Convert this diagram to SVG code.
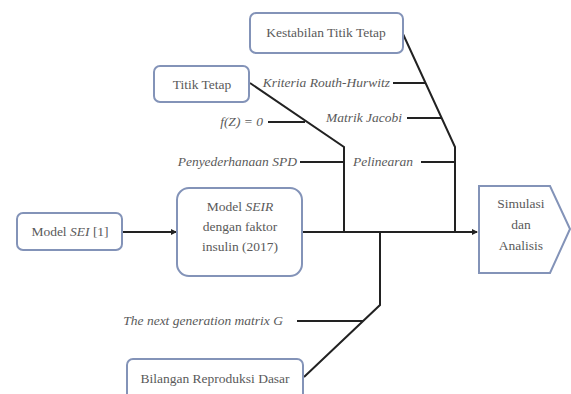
<svg xmlns="http://www.w3.org/2000/svg" width="571" height="394" viewBox="0 0 571 394">
<style>
.box{fill:#fff;stroke:#8393b8;stroke-width:2}
.t{font-family:"Liberation Serif","DejaVu Serif",serif;font-size:13.5px;fill:#5a5a5a;text-anchor:middle}
.l{font-family:"Liberation Serif","DejaVu Serif",serif;font-size:13.5px;fill:#5a5a5a;font-style:italic;text-anchor:end}
.c{fill:none;stroke:#222;stroke-width:2}
</style>
<defs>
<marker id="ah" markerWidth="6" markerHeight="6" refX="5" refY="3" orient="auto" markerUnits="userSpaceOnUse">
<path d="M0,0 L6,3 L0,6 z" fill="#222"/>
</marker>
</defs>
<rect width="571" height="394" fill="#fff"/>
<g id="connectors">
<line class="c" x1="122" y1="232" x2="176" y2="232" marker-end="url(#ah)"/>
<line class="c" x1="302" y1="232" x2="477" y2="232" marker-end="url(#ah)"/>
<polyline class="c" points="403,34 455,147 455,232"/>
<polyline class="c" points="250,83 344,147 344,232"/>
<polyline class="c" points="380,232 380,305 304,377"/>
<line class="c" x1="393" y1="83" x2="425" y2="83"/>
<line class="c" x1="407" y1="118" x2="441" y2="118"/>
<line class="c" x1="421" y1="162" x2="455" y2="162"/>
<line class="c" x1="268" y1="122" x2="305" y2="122"/>
<line class="c" x1="300" y1="162" x2="344" y2="162"/>
<line class="c" x1="297" y1="321" x2="363" y2="321"/>
</g>
<g id="labels">
<text class="l" x="390" y="87">Kriteria Routh-Hurwitz</text>
<text class="l" x="402" y="122">Matrik Jacobi</text>
<text class="l" x="413" y="166">Pelinearan</text>
<text class="l" x="263" y="126">f(Z) = 0</text>
<text class="l" x="297" y="166">Penyederhanaan SPD</text>
<text class="l" x="283" y="325">The next generation matrix G</text>
</g>
<g id="kestabilan">
<rect class="box" x="250" y="13" width="153" height="40" rx="6"/>
<text class="t" x="326" y="37">Kestabilan Titik Tetap</text>
</g>
<g id="titik-tetap">
<rect class="box" x="154" y="66" width="95" height="36" rx="6"/>
<text class="t" x="202" y="89">Titik Tetap</text>
</g>
<g id="model-sei">
<rect class="box" x="17" y="213" width="105" height="37" rx="6"/>
<text class="t" x="70" y="236">Model <tspan font-style="italic">SEI</tspan> [1]</text>
</g>
<g id="model-seir">
<rect class="box" x="177" y="188" width="125" height="88" rx="12"/>
<text class="t" x="240" y="211">Model <tspan font-style="italic">SEIR</tspan></text>
<text class="t" x="240" y="231">dengan faktor</text>
<text class="t" x="240" y="251">insulin  (2017)</text>
</g>
<g id="simulasi">
<path class="box" d="M479,186 L550,186 L570,229 L550,273 L479,273 z"/>
<text class="t" x="521" y="208">Simulasi</text>
<text class="t" x="521" y="229">dan</text>
<text class="t" x="521" y="250">Analisis</text>
</g>
<g id="bilangan">
<rect class="box" x="127" y="359" width="176" height="44" rx="6"/>
<text class="t" x="215" y="383">Bilangan Reproduksi Dasar</text>
</g>
</svg>
